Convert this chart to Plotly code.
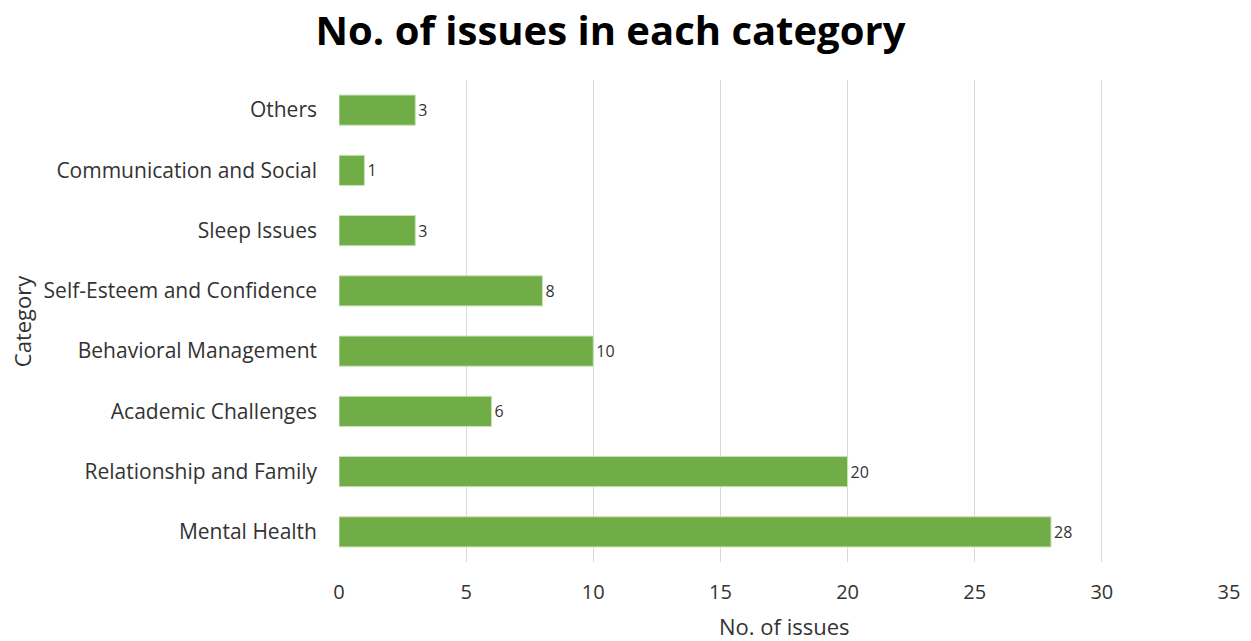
import plotly.graph_objects as go

categories = ["Mental Health", "Relationship and Family", "Academic Challenges",
              "Behavioral Management", "Self-Esteem and Confidence", "Sleep Issues",
              "Communication and Social", "Others"]
values = [28, 20, 6, 10, 8, 3, 1, 3]
x_ticks = [0, 5, 10, 15, 20, 25, 30, 35]

FONT = "Open Sans, Noto Sans, sans-serif"

fig = go.Figure(go.Bar(
    x=values, y=categories, orientation="h",
    marker=dict(color="#70AD47", line=dict(color="#c9e2b8", width=1)),
    width=0.5,
    text=[str(v) for v in values], textposition="outside",
    textfont=dict(size=16, color="#333333", family=FONT),
    cliponaxis=False,
))

fig.update_layout(
    width=1251, height=641,
    margin=dict(l=339, r=22, t=80, b=79),
    paper_bgcolor="white", plot_bgcolor="white",
    showlegend=False,
    font=dict(family=FONT, color="#333333"),
    title=dict(text="<b>No. of issues in each category</b>", x=0.488, xanchor="center",
               y=0.952, yanchor="middle", font=dict(size=40, color="#000000", family=FONT)),
    xaxis=dict(range=[0, 35], tickvals=x_ticks, showgrid=True, gridcolor="#d9d9d9",
               gridwidth=1, zeroline=False, showline=False, ticks="",
               tickfont=dict(size=20, color="#333333"), ticklabelstandoff=16,
               automargin=False),
    yaxis=dict(categoryorder="array", categoryarray=categories, showgrid=False,
               zeroline=False, showline=False, ticks="",
               tickfont=dict(size=21, color="#333333"), ticklabelstandoff=21,
               automargin=False),
    annotations=[
        dict(text="No. of issues", xref="paper", yref="paper", x=0.5, y=-0.133,
             xanchor="center", yanchor="middle", showarrow=False,
             font=dict(size=22, color="#333333")),
        dict(text="Category", xref="paper", yref="paper", x=-0.356, y=0.5,
             xanchor="center", yanchor="middle", textangle=-90, showarrow=False,
             font=dict(size=22, color="#333333")),
    ],
)

fig.write_html("out.html", config={"displayModeBar": False},
               post_script="document.body.style.margin='0';")
